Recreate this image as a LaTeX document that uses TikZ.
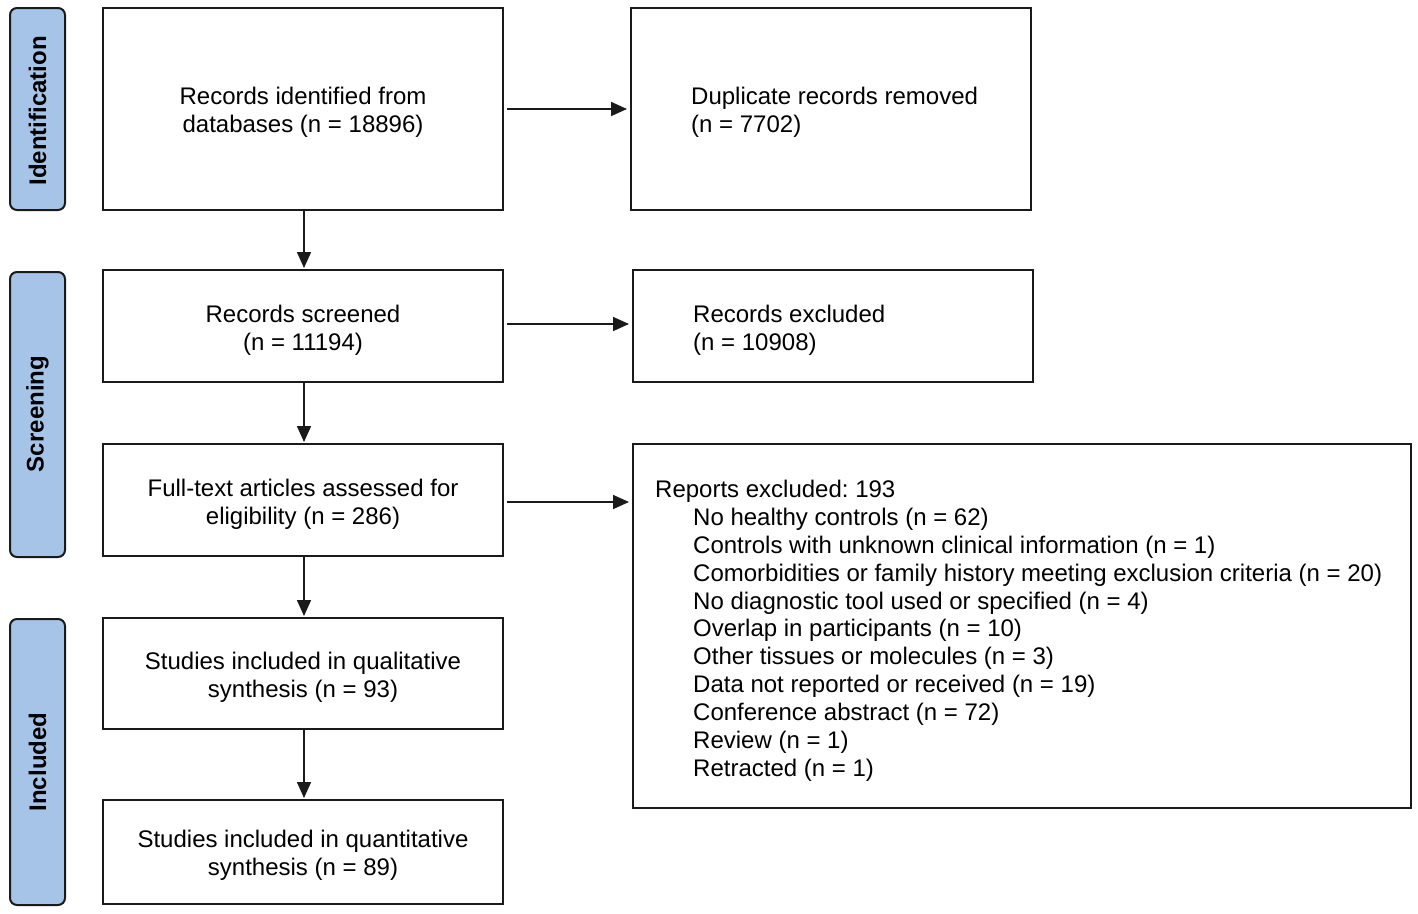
\documentclass[tikz,border=0pt]{standalone}
\usepackage{fontspec}
\setmainfont{Liberation Sans}
\usetikzlibrary{arrows.meta,calc}
\definecolor{phase}{HTML}{A6C4E8}
\definecolor{edge}{HTML}{1A1A1A}
\frenchspacing
\begin{document}
\begin{tikzpicture}[x=1pt,y=-1pt,
  box/.style={draw=edge,line width=2.4pt,inner sep=0pt},
  phasebox/.style={draw=edge,fill=phase,line width=2pt,rounded corners=7pt,inner sep=0pt},
  txt/.style={inner sep=0pt,align=center,font=\fontsize{24}{28}\selectfont},
  ltxt/.style={inner sep=0pt,align=left,font=\fontsize{24}{28}\selectfont},
  lab/.style={inner sep=0pt,rotate=90,font=\fontsize{24}{27}\selectfont\bfseries},
  arr/.style={-{Triangle[length=16pt,width=14pt]},line width=1.6pt,draw=edge,shorten <=4pt,shorten >=4pt}]
\useasboundingbox (0,0) rectangle (1418,913);
% phase labels
\draw[phasebox] (10,8) rectangle (65,210);
\node[lab] (pid) at (37.5,111) {Identification};
\draw[phasebox] (10,272) rectangle (65,557);
\node[lab] (psc) at (37.5,414) {Screening};
\draw[phasebox] (10,619) rectangle (65,905);
\node[lab] (pin) at (37.5,762) {Included};
% boxes
\draw[box] (103,8) rectangle (503,210);
\draw[box] (631,8) rectangle (1031,210);
\draw[box] (103,270) rectangle (503,382);
\draw[box] (633,270) rectangle (1033,382);
\draw[box] (103,444) rectangle (503,556);
\draw[box] (633,444) rectangle (1411,808);
\draw[box] (103,618) rectangle (503,729);
\draw[box] (103,800) rectangle (503,904);
% anchor coordinates
\coordinate (b1s) at (304,210); \coordinate (b1e) at (503,109);
\coordinate (b2w) at (631,109);
\coordinate (b3n) at (304,270); \coordinate (b3s) at (304,382); \coordinate (b3e) at (503,324);
\coordinate (b4w) at (633,324);
\coordinate (b5n) at (304,444); \coordinate (b5s) at (304,556); \coordinate (b5e) at (503,502);
\coordinate (b6w) at (633,502);
\coordinate (b7n) at (304,618); \coordinate (b7s) at (304,729);
\coordinate (b8n) at (304,800);
% texts
\node[txt] (t1) at (303,112) {Records identified from\\databases (n = 18896)};
\node[ltxt,anchor=west] (t2) at (691,112) {Duplicate records removed\\(n = 7702)};
\node[txt] (t3) at (303,330) {Records screened\\(n = 11194)};
\node[ltxt,anchor=west] (t4) at (693,330) {Records excluded\\(n = 10908)};
\node[txt] (t5) at (303,504) {Full-text articles assessed for\\eligibility (n = 286)};
\node[txt] (t7) at (303,677) {Studies included in qualitative\\synthesis (n = 93)};
\node[txt] (t8) at (303,855) {Studies included in quantitative\\synthesis (n = 89)};
\node[inner sep=0pt,align=left,anchor=north west,font=\fontsize{24}{27.85}\selectfont] (t6) at (655,480) {Reports excluded: 193\\
\hspace*{38pt}No healthy controls (n = 62)\\
\hspace*{38pt}Controls with unknown clinical information (n = 1)\\
\hspace*{38pt}Comorbidities or family history meeting exclusion criteria (n = 20)\\
\hspace*{38pt}No diagnostic tool used or specified (n = 4)\\
\hspace*{38pt}Overlap in participants (n = 10)\\
\hspace*{38pt}Other tissues or molecules (n = 3)\\
\hspace*{38pt}Data not reported or received (n = 19)\\
\hspace*{38pt}Conference abstract (n = 72)\\
\hspace*{38pt}Review (n = 1)\\
\hspace*{38pt}Retracted (n = 1)};
% arrows
\draw[arr] (b1e) -- (b2w);
\draw[arr] (b3e) -- (b4w);
\draw[arr] (b5e) -- (b6w);
\draw[arr,shorten <=1pt,shorten >=2pt] (b1s) -- (b3n);
\draw[arr,shorten <=1pt,shorten >=2pt] (b3s) -- (b5n);
\draw[arr,shorten <=1pt,shorten >=2pt] (b5s) -- (b7n);
\draw[arr,shorten <=1pt,shorten >=2pt] (b7s) -- (b8n);
\end{tikzpicture}
\end{document}
